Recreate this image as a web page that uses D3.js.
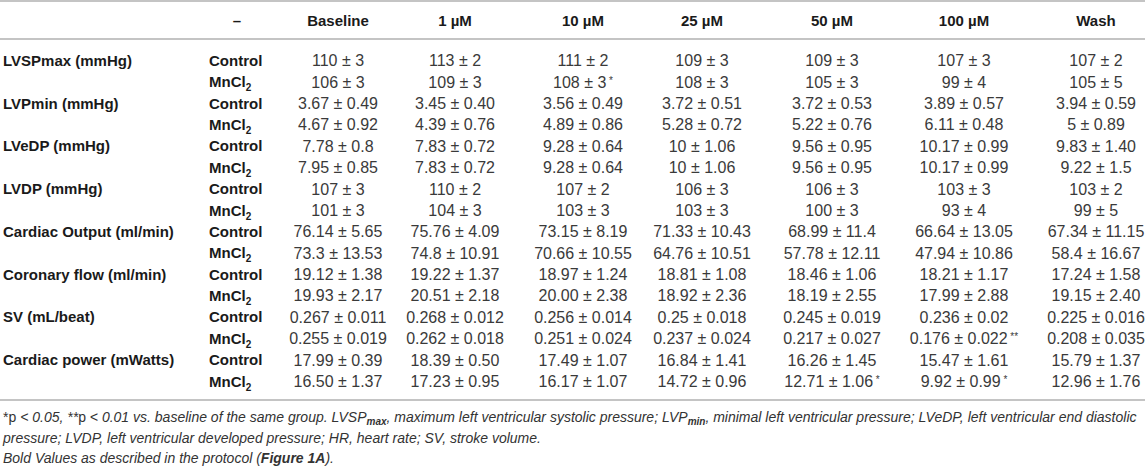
<!DOCTYPE html>
<html>
<head>
<meta charset="utf-8">
<script src="https://cdn.jsdelivr.net/npm/d3@7"></script>
<style>
  body { margin: 0; background: #fff; }
  svg { display: block; font-family: "Liberation Sans", Arial, sans-serif; }
</style>
</head>
<body>
<svg id="chart"></svg>
<script>
const W = 1145, H = 467;

// column headers
const columns = ["Baseline", "1 µM", "10 µM", "25 µM", "50 µM", "100 µM", "Wash"];
const groups = ["Control", "MnCl2"];
const parameters = [
  "LVSPmax (mmHg)", "LVPmin (mmHg)", "LVeDP (mmHg)", "LVDP (mmHg)",
  "Cardiac Output (ml/min)", "Coronary flow (ml/min)", "SV (mL/beat)", "Cardiac power (mWatts)"
];

// values, one array per row (mean ± SEM, marks kept as read)
const lvspmaxControl = ["110 ± 3", "113 ± 2", "111 ± 2", "109 ± 3", "109 ± 3", "107 ± 3", "107 ± 2"];
const lvspmaxMn      = ["106 ± 3", "109 ± 3", "108 ± 3 *", "108 ± 3", "105 ± 3", "99 ± 4", "105 ± 5"];
const lvpminControl  = ["3.67 ± 0.49", "3.45 ± 0.40", "3.56 ± 0.49", "3.72 ± 0.51", "3.72 ± 0.53", "3.89 ± 0.57", "3.94 ± 0.59"];
const lvpminMn       = ["4.67 ± 0.92", "4.39 ± 0.76", "4.89 ± 0.86", "5.28 ± 0.72", "5.22 ± 0.76", "6.11 ± 0.48", "5 ± 0.89"];
const lvedpControl   = ["7.78 ± 0.8", "7.83 ± 0.72", "9.28 ± 0.64", "10 ± 1.06", "9.56 ± 0.95", "10.17 ± 0.99", "9.83 ± 1.40"];
const lvedpMn        = ["7.95 ± 0.85", "7.83 ± 0.72", "9.28 ± 0.64", "10 ± 1.06", "9.56 ± 0.95", "10.17 ± 0.99", "9.22 ± 1.5"];
const lvdpControl    = ["107 ± 3", "110 ± 2", "107 ± 2", "106 ± 3", "106 ± 3", "103 ± 3", "103 ± 2"];
const lvdpMn         = ["101 ± 3", "104 ± 3", "103 ± 3", "103 ± 3", "100 ± 3", "93 ± 4", "99 ± 5"];
const coControl      = ["76.14 ± 5.65", "75.76 ± 4.09", "73.15 ± 8.19", "71.33 ± 10.43", "68.99 ± 11.4", "66.64 ± 13.05", "67.34 ± 11.15"];
const coMn           = ["73.3 ± 13.53", "74.8 ± 10.91", "70.66 ± 10.55", "64.76 ± 10.51", "57.78 ± 12.11", "47.94 ± 10.86", "58.4 ± 16.67"];
const cfControl      = ["19.12 ± 1.38", "19.22 ± 1.37", "18.97 ± 1.24", "18.81 ± 1.08", "18.46 ± 1.06", "18.21 ± 1.17", "17.24 ± 1.58"];
const cfMn           = ["19.93 ± 2.17", "20.51 ± 2.18", "20.00 ± 2.38", "18.92 ± 2.36", "18.19 ± 2.55", "17.99 ± 2.88", "19.15 ± 2.40"];
const svControl      = ["0.267 ± 0.011", "0.268 ± 0.012", "0.256 ± 0.014", "0.25 ± 0.018", "0.245 ± 0.019", "0.236 ± 0.02", "0.225 ± 0.016"];
const svMn           = ["0.255 ± 0.019", "0.262 ± 0.018", "0.251 ± 0.024", "0.237 ± 0.024", "0.217 ± 0.027", "0.176 ± 0.022 **", "0.208 ± 0.035"];
const cpControl      = ["17.99 ± 0.39", "18.39 ± 0.50", "17.49 ± 1.07", "16.84 ± 1.41", "16.26 ± 1.45", "15.47 ± 1.61", "15.79 ± 1.37"];
const cpMn           = ["16.50 ± 1.37", "17.23 ± 0.95", "16.17 ± 1.07", "14.72 ± 0.96", "12.71 ± 1.06 *", "9.92 ± 0.99 *", "12.96 ± 1.76"];

const values = [
  [lvspmaxControl, lvspmaxMn], [lvpminControl, lvpminMn], [lvedpControl, lvedpMn], [lvdpControl, lvdpMn],
  [coControl, coMn], [cfControl, cfMn], [svControl, svMn], [cpControl, cpMn]
];

const rows = [];
parameters.forEach((p, i) => {
  groups.forEach((g, j) => {
    rows.push({ key: i + "-" + j, param: j === 0 ? p : "", group: g, cells: values[i][j] });
  });
});

const svg = d3.select("#chart").attr("width", W).attr("height", H);

const x = d3.scaleOrdinal()
  .domain(columns)
  .range([338, 455, 583, 702, 832, 964, 1096]);

const y = d3.scaleBand()
  .domain(rows.map(d => d.key))
  .range([50, 392]);

const rowY = k => y(k) + y.bandwidth() / 2;

// rules
const rules = [1, 39, 400];
svg.selectAll("line.rule").data(rules).enter().append("line")
  .attr("class", "rule")
  .attr("x1", 0).attr("x2", W)
  .attr("y1", d => d).attr("y2", d => d)
  .attr("stroke", "#c4c4c4")
  .attr("stroke-width", 2);

// header
const header = svg.append("g").attr("font-weight", "bold").attr("font-size", 15).attr("fill", "#1a1a1a");
header.append("text").attr("x", 237).attr("y", 21).attr("dy", "0.35em")
  .attr("text-anchor", "middle").text("–");
header.selectAll("text.col").data(columns).enter().append("text")
  .attr("class", "col")
  .attr("x", d => x(d)).attr("y", 21).attr("dy", "0.35em")
  .attr("text-anchor", "middle")
  .text(d => d);

// body
const body = svg.selectAll("g.row").data(rows).enter().append("g")
  .attr("class", "row")
  .attr("transform", d => `translate(0,${rowY(d.key)})`);

body.append("text")
  .attr("x", 3).attr("dy", "0.35em")
  .attr("font-weight", "bold").attr("font-size", 15).attr("fill", "#1a1a1a")
  .text(d => d.param);

body.append("text")
  .attr("x", 209).attr("dy", "0.35em")
  .attr("font-weight", "bold").attr("font-size", 15).attr("fill", "#1a1a1a")
  .each(function(d) {
    const t = d3.select(this);
    if (d.group === "MnCl2") {
      t.append("tspan").text("MnCl");
      t.append("tspan").attr("font-size", 10).attr("dy", 4).text("2");
    } else {
      t.text(d.group);
    }
  });

body.selectAll("text.val").data(d => d.cells.map((c, i) => ({ col: columns[i], text: c })))
  .enter().append("text")
  .attr("class", "val")
  .attr("x", d => x(d.col)).attr("dy", "0.35em")
  .attr("text-anchor", "middle")
  .attr("font-size", 16).attr("fill", "#3a3a3a")
  .each(function(d) {
    const t = d3.select(this);
    const m = d.text.match(/^(.*?)(\s\*+)?$/);
    t.append("tspan").text(m[1]);
    if (m[2]) t.append("tspan").attr("font-size", 10).attr("dy", -4).text(m[2]);
  });

// footnote
const notes = [
  [["*", ""], ["p", ""], [" < 0.05, **", "i"], ["p", ""], [" < 0.01 vs. baseline of the same group. LVSP", "i"], ["max", "sub"],
   [", maximum left ventricular systolic pressure; LVP", "i"], ["min", "sub"],
   [", minimal left ventricular pressure; LVeDP, left ventricular end diastolic", "i"]],
  [["pressure; LVDP, left ventricular developed pressure; HR, heart rate; SV, stroke volume.", "i"]],
  [["Bold Values as described in the protocol (", "i"], ["Figure 1A", "bi"], [").", "i"]]
];
const noteY = [417, 438, 458];

const foot = svg.append("g").attr("font-size", 14).attr("fill", "#333");
notes.forEach((parts, i) => {
  const t = foot.append("text").attr("x", 3).attr("y", noteY[i]).attr("dy", "0.35em");
  let shifted = false;
  parts.forEach(([s, style]) => {
    const sp = t.append("tspan").text(s);
    if (style.includes("i") || style === "sub") sp.attr("font-style", "italic");
    if (style.includes("b")) sp.attr("font-weight", "bold");
    if (style === "sub") {
      sp.attr("font-size", 10).attr("dy", 3);
      shifted = true;
    } else if (shifted) {
      sp.attr("dy", -3);
      shifted = false;
    }
  });
});
</script>
</body>
</html>
